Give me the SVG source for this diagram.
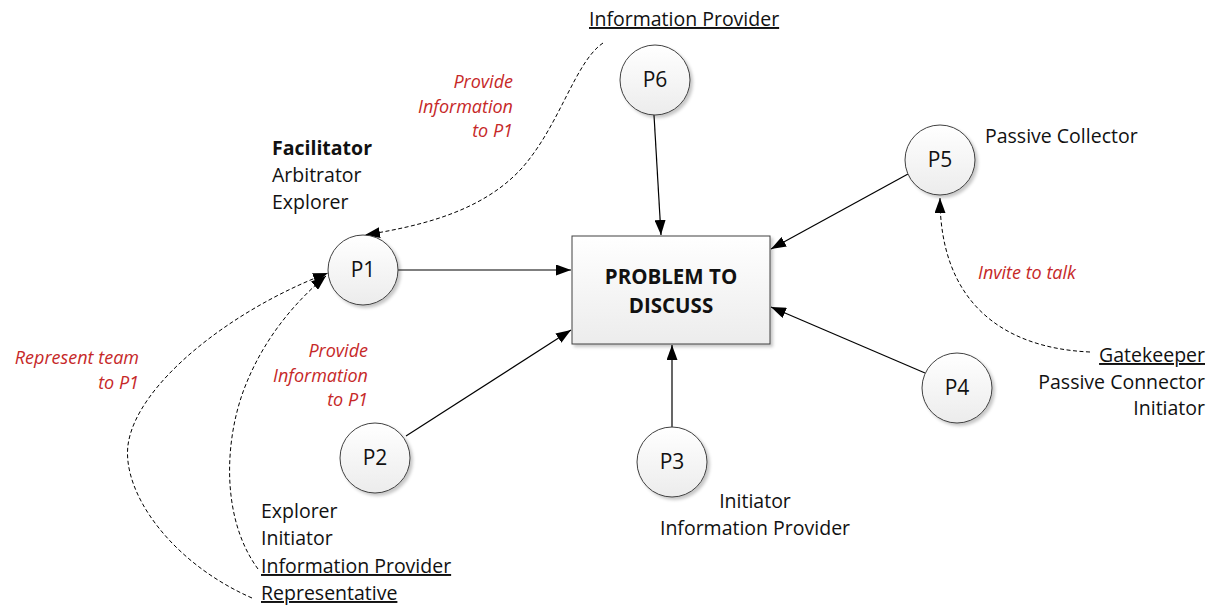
<svg xmlns="http://www.w3.org/2000/svg" width="1218" height="607" viewBox="0 0 1218 607">
<defs>
<linearGradient id="g" x1="0" y1="0" x2="0" y2="1"><stop offset="0" stop-color="#ffffff"/><stop offset="1" stop-color="#ececec"/></linearGradient>
<filter id="sh" x="-20%" y="-20%" width="150%" height="150%"><feDropShadow dx="2.5" dy="2.5" stdDeviation="1.5" flood-color="#000" flood-opacity="0.22"/></filter>
<marker id="a" viewBox="0 0 15 11" refX="15" refY="5.5" markerWidth="15" markerHeight="11" markerUnits="userSpaceOnUse" orient="auto"><path d="M0,0 L15,5.5 L0,11 Z" fill="#000"/></marker>
</defs>
<style>
text{font-family:"Open Sans","Liberation Sans",sans-serif;font-size:19.5px;fill:#111}
.r{fill:#c62828;font-style:italic;font-size:18px}
.e{text-anchor:end}
.m{text-anchor:middle}
.u{text-decoration:underline}
.b{font-weight:bold}
.node{fill:url(#g);stroke:#404040;stroke-width:1;filter:url(#sh)}
.s{fill:none;stroke:#000;stroke-width:1.2;marker-end:url(#a)}
.d{fill:none;stroke:#000;stroke-width:1;stroke-dasharray:4 2.5;marker-end:url(#a)}
.lbl{font-size:21px}
</style>
<g id="connectors">
<line class="s" x1="398" y1="270" x2="571" y2="270"/>
<line class="s" x1="654" y1="115" x2="661" y2="235"/>
<line class="s" x1="908" y1="174" x2="771" y2="249"/>
<line class="s" x1="925" y1="373" x2="771" y2="307"/>
<line class="s" x1="672" y1="428" x2="672" y2="345"/>
<line class="s" x1="406" y1="436" x2="571" y2="330"/>
<path class="d" d="M603,43 C575,62 560,125 522,168 C482,212 420,226 365,235"/>
<path class="d" d="M1090,352 C1000,348 940,300 940,198"/>
<path class="d" d="M252,598 C170,562 122,492 128,445 C136,385 230,310 328,273"/>
<path class="d" d="M258,569 C222,520 224,445 243,392 C262,340 295,302 326,276"/>
</g>
<g id="box">
<rect class="node" x="572" y="236" width="198" height="108" stroke="#595959"/>
<text class="b m" x="671" y="284" style="font-size:20.5px">PROBLEM TO</text>
<text class="b m" x="671" y="313" style="font-size:20.5px">DISCUSS</text>
</g>
<g id="p1"><circle class="node" cx="363" cy="270" r="35"/><text class="m lbl" x="363" y="277">P1</text></g>
<g id="p2"><circle class="node" cx="375" cy="458" r="35"/><text class="m lbl" x="375" y="465">P2</text></g>
<g id="p3"><circle class="node" cx="672" cy="462" r="35"/><text class="m lbl" x="672" y="469">P3</text></g>
<g id="p4"><circle class="node" cx="957" cy="388" r="35"/><text class="m lbl" x="957" y="395">P4</text></g>
<g id="p5"><circle class="node" cx="940" cy="160" r="35"/><text class="m lbl" x="940" y="167">P5</text></g>
<g id="p6"><circle class="node" cx="655" cy="80" r="35"/><text class="m lbl" x="655" y="87">P6</text></g>
<g id="labels">
<text class="u" x="589" y="26">Information Provider</text>
<text class="r e" x="513" y="88">Provide</text>
<text class="r e" x="513" y="112.5">Information</text>
<text class="r e" x="513" y="137">to P1</text>
<text class="b" x="272" y="155">Facilitator</text>
<text x="272" y="182">Arbitrator</text>
<text x="272" y="209">Explorer</text>
<text x="985" y="143">Passive Collector</text>
<text class="r" x="978" y="279">Invite to talk</text>
<text class="e u" x="1205" y="362">Gatekeeper</text>
<text class="e" x="1205" y="389">Passive Connector</text>
<text class="e" x="1205" y="415">Initiator</text>
<text class="r e" x="139" y="364">Represent team</text>
<text class="r e" x="139" y="389">to P1</text>
<text class="r e" x="368" y="357">Provide</text>
<text class="r e" x="368" y="381.5">Information</text>
<text class="r e" x="368" y="406">to P1</text>
<text x="261" y="518">Explorer</text>
<text x="261" y="545">Initiator</text>
<text class="u" x="261" y="573">Information Provider</text>
<text class="u" x="261" y="600">Representative</text>
<text class="m" x="755" y="508">Initiator</text>
<text class="m" x="755" y="535">Information Provider</text>
</g>
</svg>
